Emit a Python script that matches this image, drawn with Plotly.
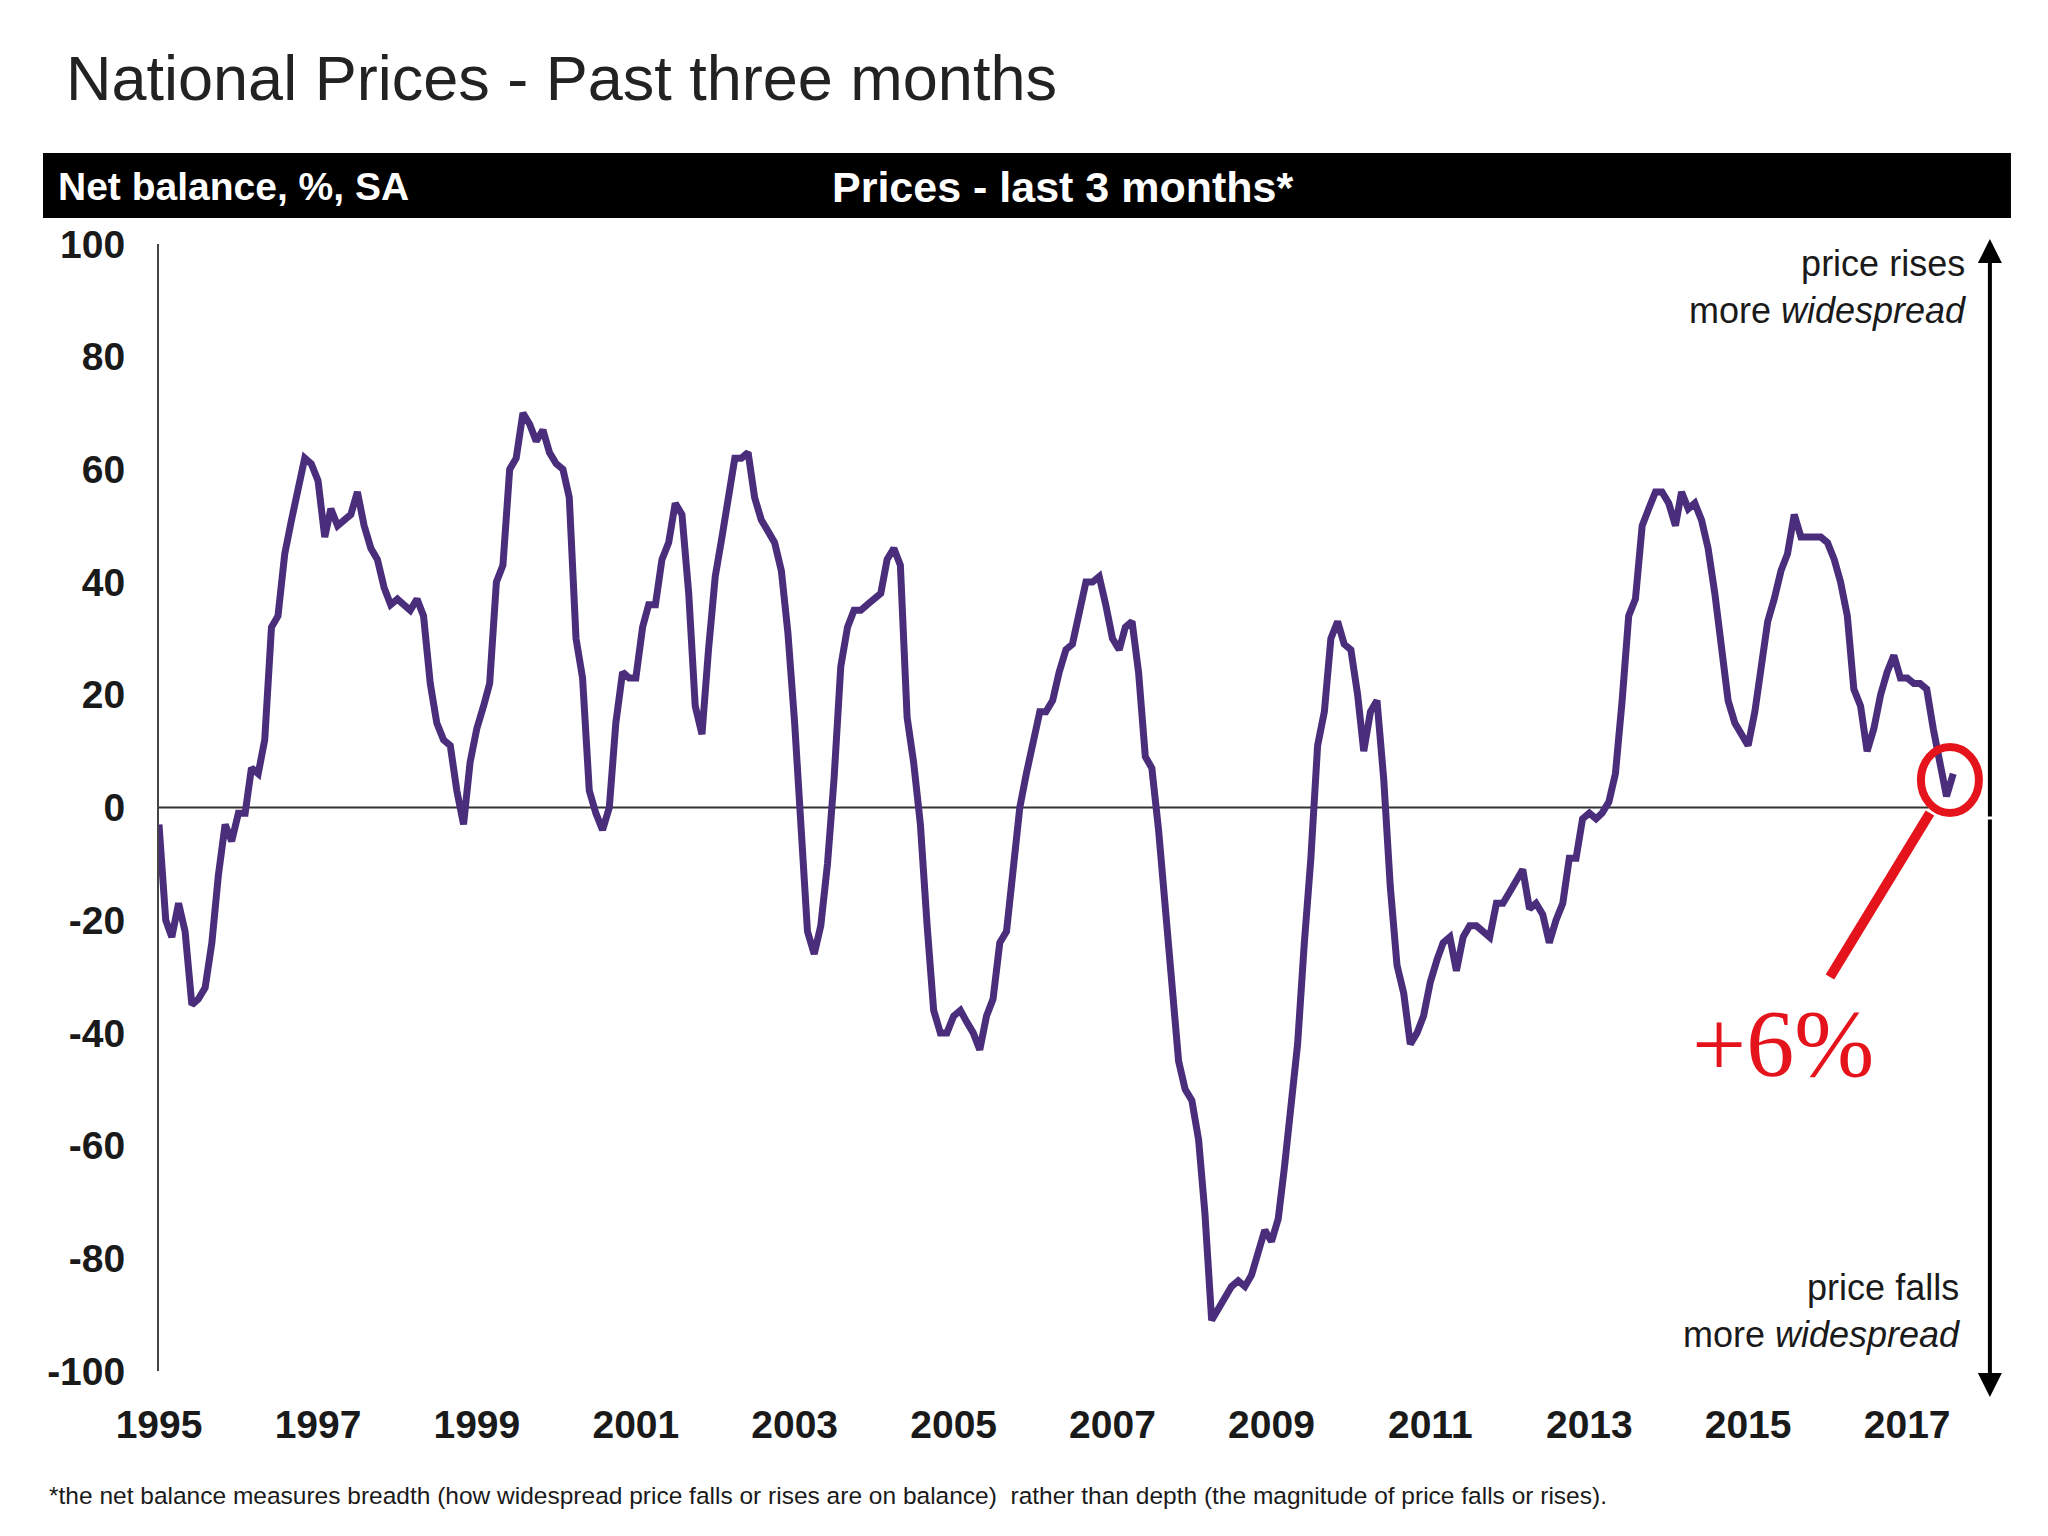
import pandas as pd
import plotly.graph_objects as go

# Net balance (%, SA), monthly, Jan 1995 - Aug 2017
v1995 = [-3, -20, -23, -17, -22, -35, -34, -32, -24, -12, -3, -6]
v1996 = [-1, -1, 7, 6, 12, 32, 34, 45, 51, 56, 62, 61]
v1997 = [58, 48, 53, 50, 51, 52, 56, 50, 46, 44, 39, 36]
v1998 = [37, 36, 35, 37, 34, 22, 15, 12, 11, 3, -3, 8]
v1999 = [14, 18, 22, 40, 43, 60, 62, 70, 68, 65, 67, 63]
v2000 = [61, 60, 55, 30, 23, 3, -1, -4, 0, 15, 24, 23]
v2001 = [23, 32, 36, 36, 44, 47, 54, 52, 38, 18, 13, 28]
v2002 = [41, 48, 55, 62, 62, 63, 55, 51, 49, 47, 42, 31]
v2003 = [15, -4, -22, -26, -21, -10, 5, 25, 32, 35, 35, 36]
v2004 = [37, 38, 44, 46, 43, 16, 8, -3, -21, -36, -40, -40]
v2005 = [-37, -36, -38, -40, -43, -37, -34, -24, -22, -10, 0, 6]
v2006 = [11, 17, 17, 19, 24, 28, 29, 35, 40, 40, 41, 36]
v2007 = [30, 28, 32, 33, 24, 9, 7, -4, -18, -30, -45, -50]
v2008 = [-52, -59, -72, -91, -89, -87, -85, -84, -85, -83, -79, -75]
v2009 = [-77, -73, -64, -52, -42, -24, -9, 11, 17, 30, 33, 29]
v2010 = [28, 20, 10, 17, 19, 5, -14, -28, -33, -42, -40, -37]
v2011 = [-31, -27, -24, -23, -29, -23, -21, -21, -22, -23, -17, -17]
v2012 = [-15, -13, -11, -18, -17, -19, -24, -20, -17, -9, -9, -2]
v2013 = [-1, -2, -1, 1, 6, 19, 34, 37, 50, 53, 56, 56]
v2014 = [54, 50, 56, 53, 54, 51, 46, 38, 28, 19, 15, 13]
v2015 = [11, 17, 25, 33, 37, 42, 45, 52, 48, 48, 48, 48]
v2016 = [47, 44, 40, 34, 21, 18, 10, 14, 20, 24, 27, 23]
v2017 = [23, 22, 22, 21, 14, 7, 2, 6]

values = (v1995 + v1996 + v1997 + v1998 + v1999 + v2000 + v2001 + v2002
          + v2003 + v2004 + v2005 + v2006 + v2007 + v2008 + v2009 + v2010
          + v2011 + v2012 + v2013 + v2014 + v2015 + v2016 + v2017)
dates = pd.date_range("1995-01-01", periods=len(values), freq="MS")

x_tick_years = ["1995", "1997", "1999", "2001", "2003", "2005", "2007",
                "2009", "2011", "2013", "2015", "2017"]
y_ticks = [100, 80, 60, 40, 20, 0, -20, -40, -60, -80, -100]

NARROW = "Liberation Sans Narrow, Arial Narrow, Liberation Sans, Arial, sans-serif"
SANS = "Liberation Sans, Arial, sans-serif"
SERIF = "Liberation Serif, Times New Roman, serif"
RED = "#e5141c"
PURPLE = "#4a2e7c"
TXT = "#1a1a1a"

fig = go.Figure()
fig.add_trace(go.Scatter(
    x=dates, y=values, mode="lines",
    line=dict(color=PURPLE, width=7),
    hoverinfo="skip", showlegend=False,
))

fig.update_layout(
    width=2048, height=1536,
    margin=dict(l=151, r=96, t=236, b=173),
    paper_bgcolor="white", plot_bgcolor="white",
    showlegend=False,
    xaxis=dict(
        range=["1995-01-01", "2017-09-01"],
        tickvals=[f"{y}-01-01" for y in x_tick_years],
        ticktext=x_tick_years,
        showgrid=False, zeroline=False, showline=False, ticks="",
        ticklabelstandoff=27,
        tickfont=dict(family=NARROW, size=39, color=TXT, weight="bold"),
    ),
    yaxis=dict(
        range=[-100, 100],
        tickvals=y_ticks,
        ticktext=[str(v) for v in y_ticks],
        showgrid=False, zeroline=False,
        showline=True, linecolor="#444444", linewidth=2,
        ticks="", ticklabelstandoff=24,
        tickfont=dict(family=NARROW, size=39, color=TXT, weight="bold"),
    ),
)

shapes = []
# zero line
shapes.append(dict(type="line", xref="x", yref="y",
                   x0="1995-01-01", x1="2017-04-10", y0=0, y1=0,
                   line=dict(color="#333333", width=2), layer="below"))
# header bar
shapes.append(dict(type="rect", xref="paper", yref="paper",
                   x0=-0.0644, x1=1.0283, y0=1.0231, y1=1.0808,
                   fillcolor="black", line=dict(width=0)))
# red circle
shapes.append(dict(type="circle", xref="paper", yref="paper",
                   x0=0.9783, x1=1.0105, y0=0.4951, y1=0.5537,
                   line=dict(color=RED, width=8)))
# red pointer line
shapes.append(dict(type="line", xref="paper", yref="paper",
                   x0=0.9833, y0=0.4951, x1=0.9278, y1=0.3496,
                   line=dict(color=RED, width=10)))
fig.update_layout(shapes=shapes)

ann = []
ann.append(dict(text="National Prices - Past three months", xref="paper", yref="paper",
                x=-0.053, y=1.1473, xanchor="left", yanchor="middle", showarrow=False,
                font=dict(family=SANS, size=63, color="#222222")))
ann.append(dict(text="Net balance, %, SA", xref="paper", yref="paper",
                x=-0.057, y=1.0506, xanchor="left", yanchor="middle", showarrow=False,
                font=dict(family=NARROW, size=39, color="white", weight="bold")))
ann.append(dict(text="Prices - last 3 months*", xref="paper", yref="paper",
                x=0.5014, y=1.0506, xanchor="center", yanchor="middle", showarrow=False,
                font=dict(family=NARROW, size=43, color="white", weight="bold")))
ann.append(dict(text="price rises<br>more <i>widespread</i>", xref="paper", yref="paper",
                x=1.0045, y=0.962, xanchor="right", yanchor="middle", align="right",
                showarrow=False, font=dict(family=SANS, size=36, color=TXT)))
ann.append(dict(text="price falls<br>more <i>widespread</i>", xref="paper", yref="paper",
                x=1.001, y=0.0532, xanchor="right", yanchor="middle", align="right",
                showarrow=False, font=dict(family=SANS, size=36, color=TXT)))
ann.append(dict(text="+6%", xref="paper", yref="paper",
                x=0.9017, y=0.291, xanchor="center", yanchor="middle", showarrow=False,
                font=dict(family=SERIF, size=96, color=RED)))
ann.append(dict(text="*the net balance measures breadth (how widespread price falls or rises are on balance)  rather than depth (the magnitude of price falls or rises).",
                xref="paper", yref="paper", x=-0.062, y=-0.1109,
                xanchor="left", yanchor="middle", showarrow=False,
                font=dict(family=NARROW, size=24.5, color=TXT)))
# double-headed vertical arrow on the right
ann.append(dict(text="", xref="paper", yref="paper", x=1.0166, y=1.0044,
                ax=0, ay=579, axref="pixel", ayref="pixel", showarrow=True,
                arrowhead=2, arrowsize=1.2, arrowwidth=4, arrowcolor="black"))
ann.append(dict(text="", xref="paper", yref="paper", x=1.0166, y=-0.023,
                ax=0, ay=-579, axref="pixel", ayref="pixel", showarrow=True,
                arrowhead=2, arrowsize=1.2, arrowwidth=4, arrowcolor="black"))
fig.update_layout(annotations=ann)

fig.write_html("out.html")
